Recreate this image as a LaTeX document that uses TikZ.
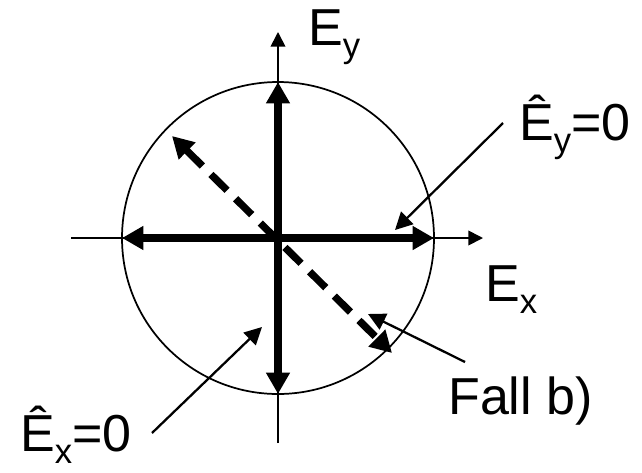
\documentclass[tikz,border=0pt]{standalone}
\usepackage{fontspec}
\setmainfont{Liberation Sans}
\usetikzlibrary{arrows.meta}

\newcommand{\lbsub}[1]{\smash{\raisebox{-9pt}{\fontsize{26}{30}\selectfont #1}}}

\begin{document}
\begin{tikzpicture}[x=0.75pt, y=-0.75pt, font=\fontsize{39}{47}\selectfont,
  axis/.style={line width=1.3pt, -{Triangle[length=11pt,width=11pt]}},
  field/.style={line width=5.5pt, -{Triangle[length=16pt,width=17pt]}},
  diag/.style={line width=5.5pt, dash pattern=on 17pt off 9pt,
    {Triangle[length=16pt,width=17pt]}-{Triangle[length=16pt,width=17pt]}},
  pointer/.style={line width=1.7pt, -{Triangle[length=13pt,width=13pt]}},
  lbl/.style={anchor=base west, inner sep=0pt}]
  \useasboundingbox (0,0) rectangle (642,472);

  \coordinate (o) at (278,238);
  \draw[line width=1.3pt] (o) circle[radius=156];

  % axes
  \coordinate (xl) at (71,238);
  \coordinate (xr) at (483,238);
  \coordinate (yb) at (278,443);
  \coordinate (yt) at (278,32);
  \draw[axis] (xl) -- (xr);
  \draw[axis] (yb) -- (yt);

  % field vectors
  \draw[field] (o) -- (278,82);
  \draw[field] (o) -- (278,394);
  \draw[field] (o) -- (122,238);
  \draw[field] (o) -- (434,238);
  \coordinate (dl) at (172,136);
  \coordinate (dr) at (392,353);
  \draw[diag] (dl) -- (dr);

  % labels
  \node[lbl] (ey) at (308,45) {E\lbsub{y}};
  \node[lbl] (ex) at (485,301) {E\lbsub{x}};
  \node[lbl] (ey0) at (519,140) {Ê\lbsub{y}=0};
  \node[lbl] (ex0) at (20,451) {Ê\lbsub{x}=0};
  \node[lbl] (fb) at (448,414) {Fall b)};

  % pointers
  \coordinate (pa) at (503,123);
  \coordinate (pb) at (152,433);
  \coordinate (pc) at (465,362);
  \draw[pointer] (pa) -- (395,230);
  \draw[pointer] (pb) -- (262,327);
  \draw[pointer] (pc) -- (368,314);
\end{tikzpicture}
\end{document}
